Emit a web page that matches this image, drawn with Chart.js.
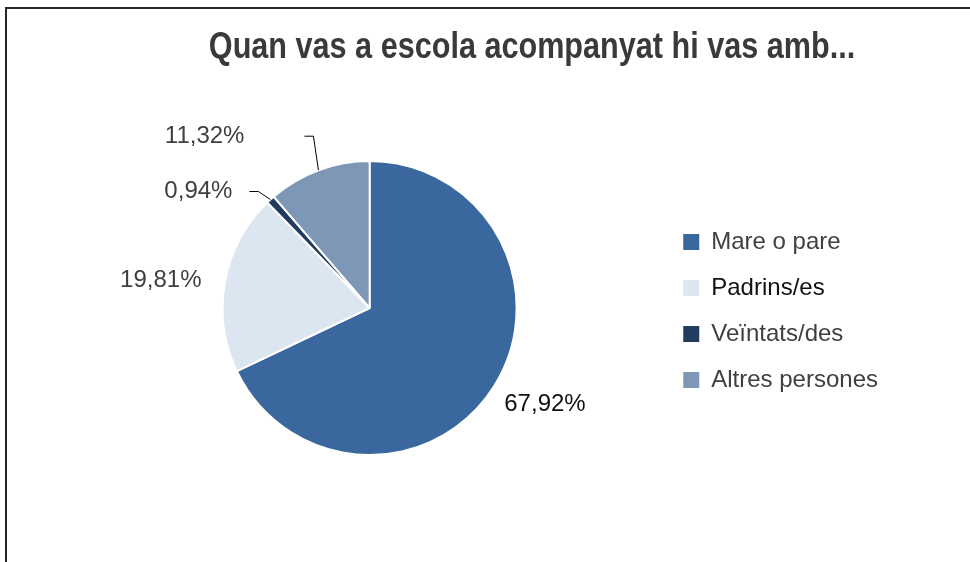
<!DOCTYPE html>
<html>
<head>
<meta charset="utf-8">
<script src="https://cdn.jsdelivr.net/npm/chart.js@4/dist/chart.umd.min.js"></script>
<style>
  html, body { margin: 0; padding: 0; background: #fff; overflow: hidden; }
  #wrap { position: relative; width: 970px; height: 562px; }
  #frame { position: absolute; left: 5px; top: 7px; right: -10px; bottom: -10px;
           border-left: 2px solid #262626; border-top: 2px solid #262626; pointer-events: none; }
</style>
</head>
<body>
<div id="wrap">
  <canvas id="chart"></canvas>
  <div id="frame"></div>
</div>
<script>
const chartTitle = "Quan vas a escola acompanyat hi vas amb..."

const categories = ["Mare o pare", "Padrins/es", "Veïntats/des", "Altres persones"]

const values = [67.92, 19.81, 0.94, 11.32]

const colors = ["#3b679f", "#dce6f1", "#223c60", "#7f97b7"]

const legendTextColors = ["#404040", "#111111", "#404040", "#404040"]

// where each percentage sits (Excel "best fit" look)
const labelPlacement = [
  { ext: 45, dx: 13, dy: -6, color: "#111111" },
  { ext: 55, dx: -10, dy: 8, color: "#404040" },
  { leader: true, dx: -12, dy: -8, gap: 17, color: "#404040" },
  { leader: true, dx: -5, dy: -34, gap: 60, color: "#404040" },
]

const fmt = (v) => v.toFixed(2).replace(".", ",") + "%"

// title is a narrow bold face in the original, squeeze it a bit
const titlePlugin = {
  id: "titleText",
  afterDraw(chart) {
    const ctx = chart.ctx
    ctx.save()
    ctx.font = "bold 37px 'Liberation Sans', Arial, sans-serif"
    ctx.fillStyle = "#3a3a3a"
    ctx.textAlign = "center"
    ctx.textBaseline = "middle"
    ctx.translate(532, 48)
    ctx.scale(0.827, 1)
    ctx.fillText(chartTitle, 0, 0)
    ctx.restore()
  },
}

const pieLabels = {
  id: "pieLabels",
  afterDatasetsDraw(chart) {
    const ctx = chart.ctx
    const meta = chart.getDatasetMeta(0)
    ctx.save()
    ctx.font = "24px 'Liberation Sans', Arial, sans-serif"
    ctx.textBaseline = "middle"
    meta.data.forEach((arc, i) => {
      const p = arc.getProps(["x", "y", "startAngle", "endAngle", "outerRadius"], true)
      const mid = (p.startAngle + p.endAngle) / 2
      const cos = Math.cos(mid)
      const sin = Math.sin(mid)
      const opt = labelPlacement[i]
      const text = fmt(values[i])
      ctx.fillStyle = opt.color
      if (opt.leader) {
        const ax = p.x + cos * p.outerRadius
        const ay = p.y + sin * p.outerRadius
        const ex = ax + opt.dx
        const ey = ay + opt.dy
        ctx.strokeStyle = "#000"
        ctx.lineWidth = 1
        ctx.beginPath()
        ctx.moveTo(ax, ay)
        ctx.lineTo(ex, ey)
        ctx.lineTo(ex - 9, ey)
        ctx.stroke()
        ctx.textAlign = "right"
        ctx.fillText(text, ex - 9 - opt.gap, ey)
      } else {
        const r = p.outerRadius + opt.ext
        ctx.textAlign = "center"
        ctx.fillText(text, p.x + cos * r + opt.dx, p.y + sin * r + opt.dy)
      }
    })
    ctx.restore()
  },
}

const data = {
  labels: categories,
  datasets: [
    {
      data: values,
      backgroundColor: colors,
      borderColor: "#ffffff",
      borderWidth: 2,
    },
  ],
}

const config = {
  type: "pie",
  data: data,
  options: {
    responsive: true,
    maintainAspectRatio: false,
    animation: false,
    layout: {
      padding: { top: 160, bottom: 106, left: 78, right: 82 },
    },
    plugins: {
      title: { display: false },
      tooltip: { enabled: false },
      legend: {
        position: "right",
        align: "center",
        // empty title only nudges the items down a little
        title: { display: true, text: "", padding: 0, font: { size: 5 } },
        labels: {
          boxWidth: 16,
          boxHeight: 16,
          padding: 22,
          font: { size: 24, family: "'Liberation Sans', Arial, sans-serif" },
          generateLabels(chart) {
            const items = Chart.overrides.pie.plugins.legend.labels.generateLabels(chart)
            return items.map((it, i) => ({ ...it, lineWidth: 0, fontColor: legendTextColors[i] }))
          },
        },
      },
    },
  },
  plugins: [pieLabels, titlePlugin],
}

const myChart = new Chart(document.getElementById("chart"), config)
</script>
</body>
</html>
